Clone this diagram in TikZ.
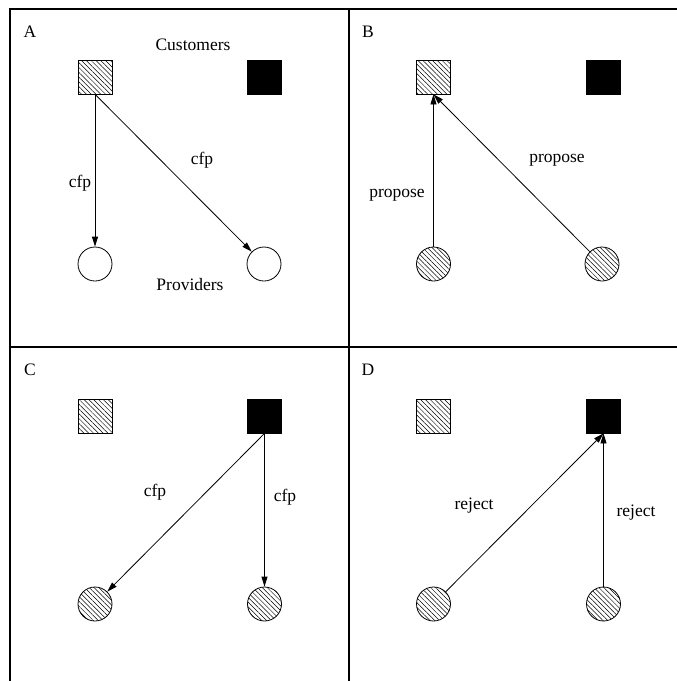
\documentclass[tikz,border=0pt]{standalone}
\usepackage{fontspec}
\setmainfont{Liberation Serif}
\usetikzlibrary{arrows.meta,patterns.meta}
\begin{document}
\begin{tikzpicture}[x=1pt,y=-1pt,
  font=\fontsize{17.5}{20}\selectfont,
  agent/.style={draw, line width=0.8pt, minimum size=34pt, inner sep=0pt},
  hatchsq/.style={agent, rectangle, pattern={Lines[angle=-45,distance=3.4pt,line width=0.5pt]}},
  blacksq/.style={agent, rectangle, fill=black},
  prov/.style={agent, circle},
  hatchprov/.style={agent, circle, pattern={Lines[angle=-45,distance=3.4pt,line width=0.5pt]}},
  msg/.style={-{Triangle[length=10pt,width=6pt]}, line width=0.8pt},
  frameline/.style={line width=1.5pt},
  lbl/.style={inner sep=0pt}]
\useasboundingbox (0,0) rectangle (677,681);
% frame
\coordinate (fbl) at (10,681);
\coordinate (ftl) at (10,9);
\coordinate (ftr) at (677,9);
\coordinate (fml) at (10,347);
\coordinate (fmr) at (677,347);
\coordinate (fmt) at (349,9);
\coordinate (fmb) at (349,681);
\draw[frameline] (fbl) -- (ftl) -- (ftr);
\draw[frameline] (fml) -- (fmr);
\draw[frameline] (fmt) -- (fmb);

% Panel A
\node[lbl] (la) at (30,32) {A};
\node[lbl] (cust) at (193,45) {Customers};
\node[lbl] (provs) at (190,285) {Providers};
\node[hatchsq] (a1) at (95,77) {};
\node[blacksq] (a2) at (264.5,77) {};
\node[prov] (ap1) at (95,264) {};
\node[prov] (ap2) at (264,264) {};
\draw[msg] (a1.south) -- (ap1);
\draw[msg] (a1.south) -- (ap2);
\node[lbl] (acfp1) at (80,183) {cfp};
\node[lbl] (acfp2) at (202,160) {cfp};

% Panel B
\node[lbl] (lb) at (368,32) {B};
\node[hatchsq] (b1) at (433.5,77) {};
\node[blacksq] (b2) at (603.5,77) {};
\node[hatchprov] (bp1) at (433.5,264) {};
\node[hatchprov] (bp2) at (602,264) {};
\draw[msg] (bp1) -- (b1.south);
\draw[msg] (bp2) -- (b1.south);
\node[lbl] (bprop1) at (397,195) {propose};
\node[lbl] (bprop2) at (557,160) {propose};

% Panel C
\node[lbl] (lc) at (30,370) {C};
\node[hatchsq] (c1) at (95,416) {};
\node[blacksq] (c2) at (264.5,416) {};
\node[hatchprov] (cp1) at (95,604) {};
\node[hatchprov] (cp2) at (264.5,604) {};
\draw[msg] (c2.south) -- (cp1);
\draw[msg] (c2.south) -- (cp2);
\node[lbl] (ccfp1) at (155,492) {cfp};
\node[lbl] (ccfp2) at (285,497) {cfp};

% Panel D
\node[lbl] (ld) at (368,370) {D};
\node[hatchsq] (d1) at (433.5,416) {};
\node[blacksq] (d2) at (603.5,416) {};
\node[hatchprov] (dp1) at (433.5,604) {};
\node[hatchprov] (dp2) at (603.5,604) {};
\draw[msg] (dp1) -- (d2.south);
\draw[msg] (dp2) -- (d2.south);
\node[lbl] (drej1) at (474,506) {reject};
\node[lbl] (drej2) at (636,513) {reject};
\end{tikzpicture}
\end{document}
